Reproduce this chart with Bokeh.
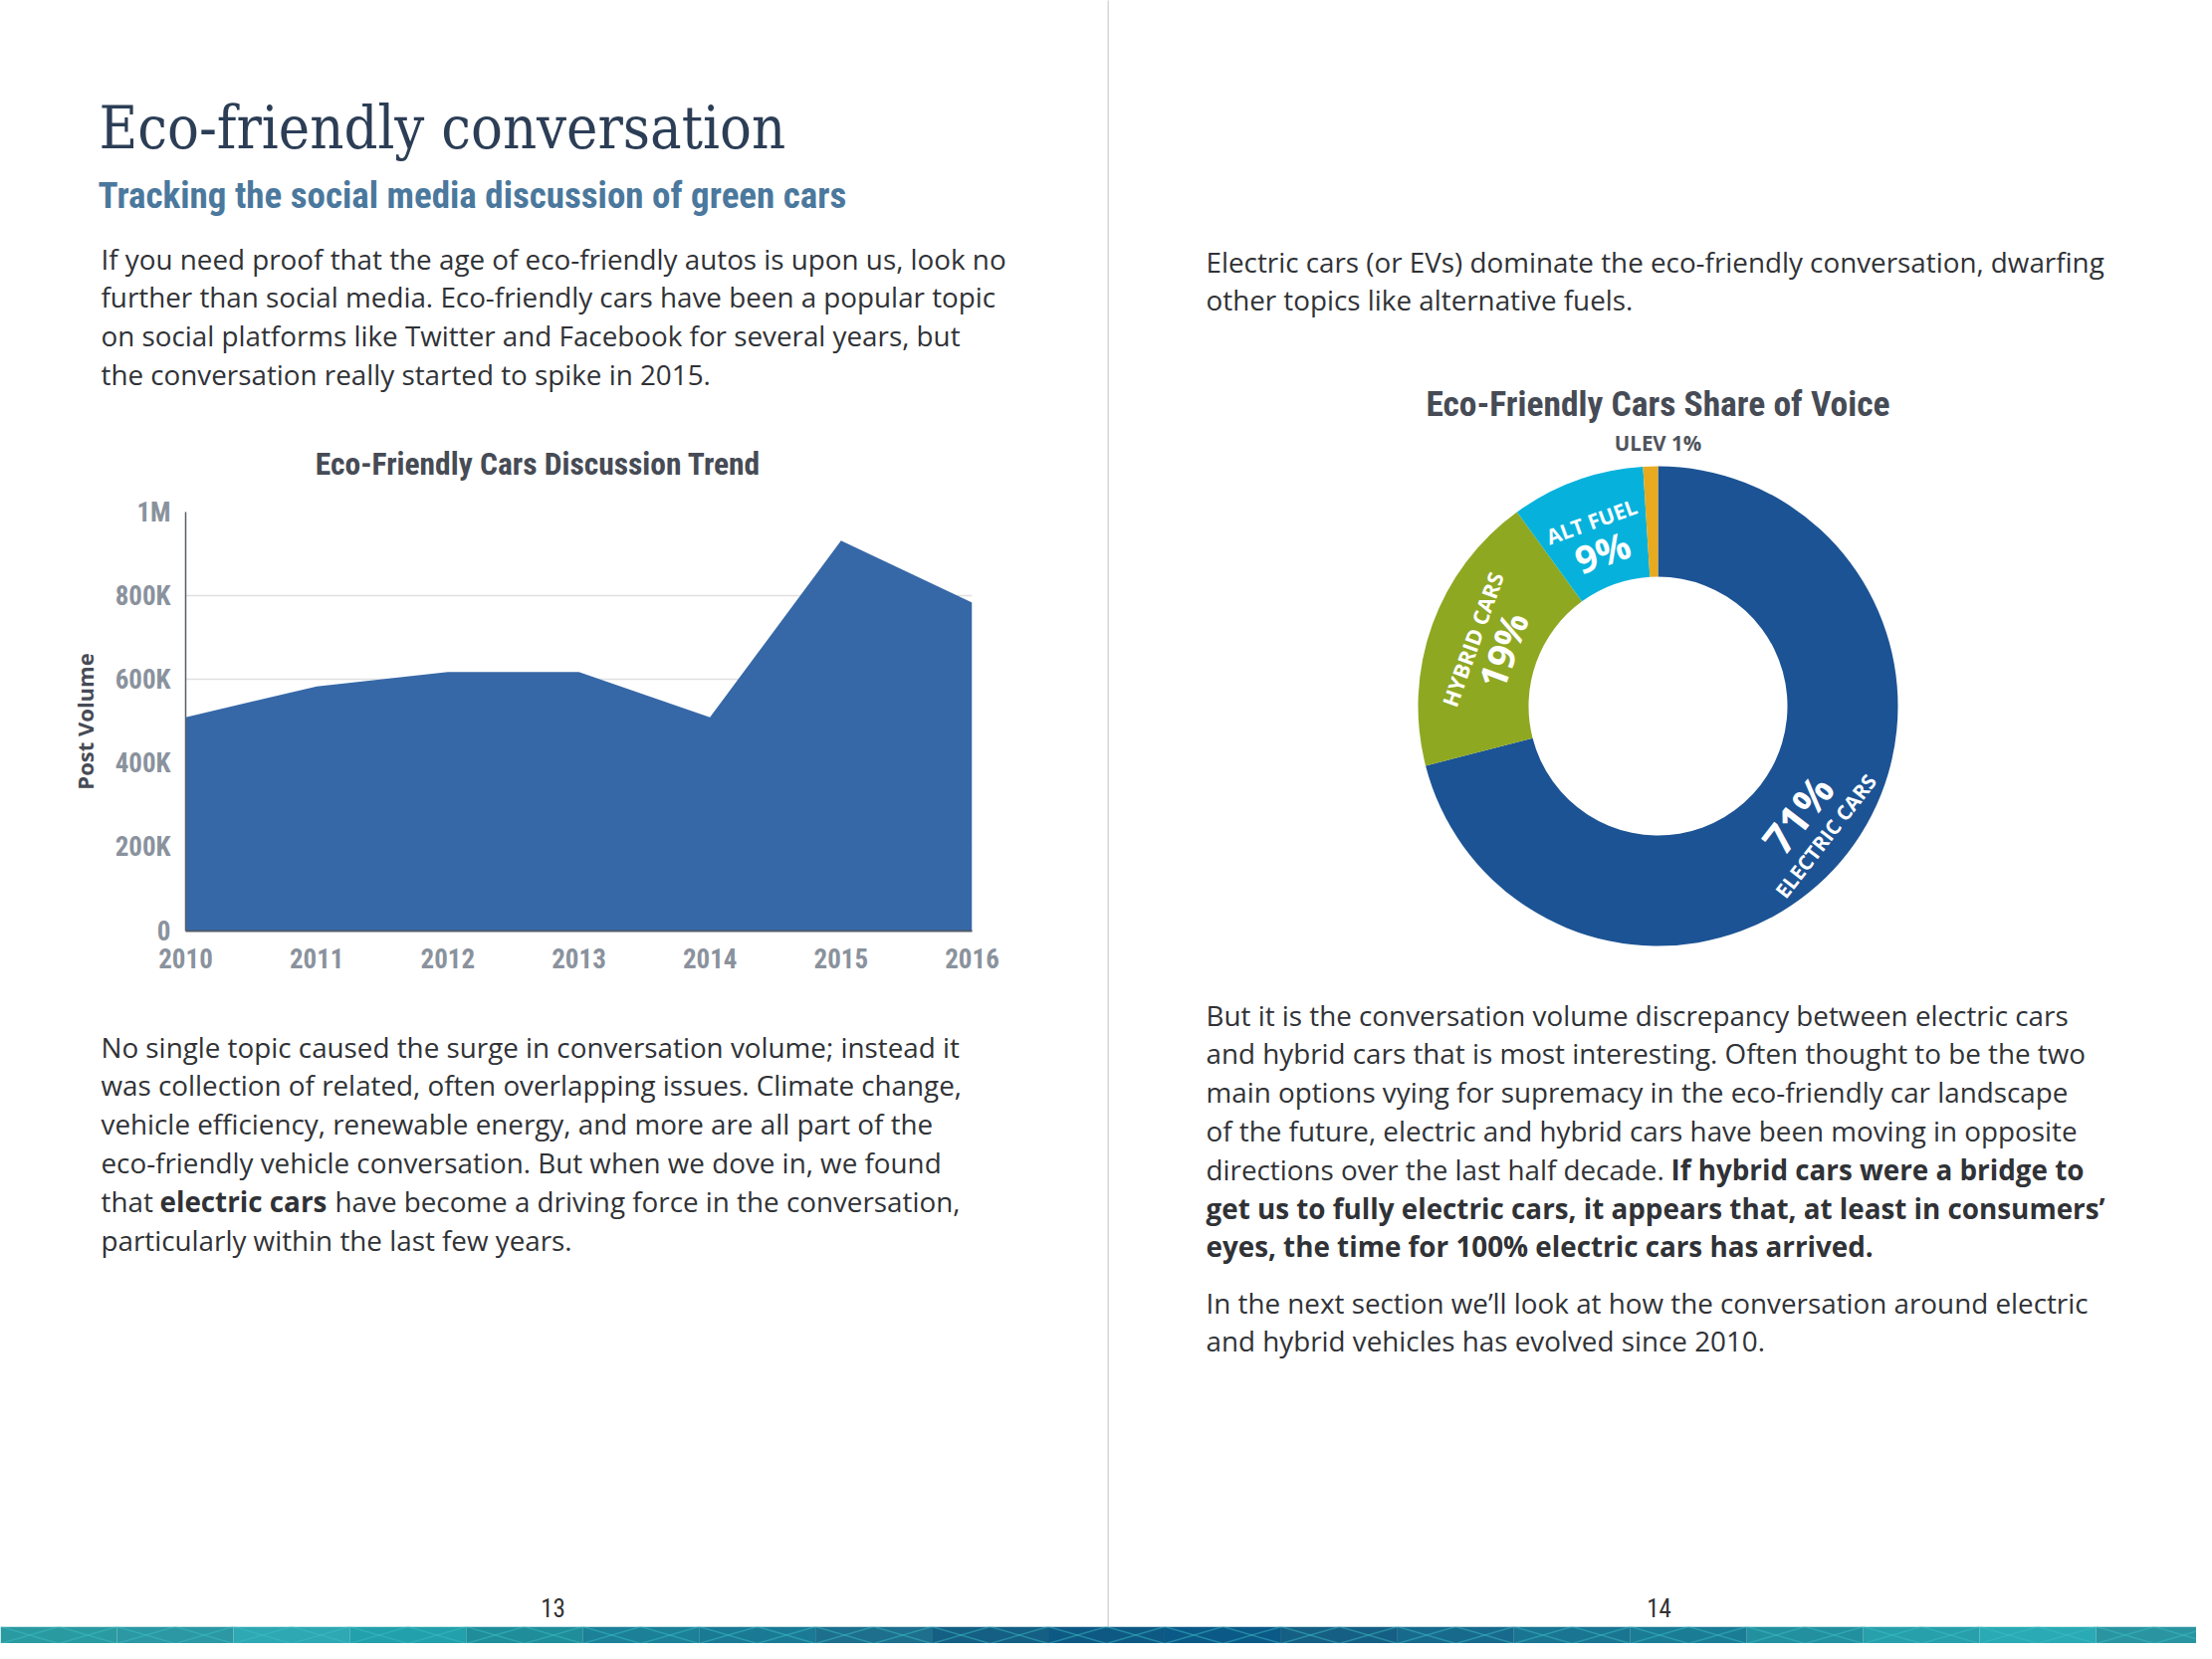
import math
from bokeh.plotting import figure
from bokeh.models import Range1d, FixedTicker
from bokeh.layouts import row, column
from bokeh.embed import file_html
from bokeh.resources import INLINE
from bokeh.core.properties import value

# ---------------- data ----------------
years = [2010, 2011, 2012, 2013, 2014, 2015, 2016]
post_volume = [510000, 584000, 618000, 618000, 510000, 932000, 784000]
y_ticks = [0, 200000, 400000, 600000, 800000, 1000000]
y_tick_labels = ["0", "200K", "400K", "600K", "800K", "1M"]

share_names = ["ELECTRIC CARS", "HYBRID CARS", "ALT FUEL", "ULEV"]
share_values = [71, 19, 9, 1]
share_colors = ["#1c5394", "#8ea822", "#06b2dc", "#e8aa1e"]

left_p1 = [
    "If you need proof that the age of eco-friendly autos is upon us, look no",
    "further than social media. Eco-friendly cars have been a popular topic",
    "on social platforms like Twitter and Facebook for several years, but",
    "the conversation really started to spike in 2015.",
]
left_p2 = [
    "No single topic caused the surge in conversation volume; instead it",
    "was collection of related, often overlapping issues. Climate change,",
    "vehicle efficiency, renewable energy, and more are all part of the",
    "eco-friendly vehicle conversation. But when we dove in, we found",
]
left_p2_mixed = ["that", "electric cars", "have become a driving force in the conversation,"]
left_p2_last = "particularly within the last few years."

right_p1 = [
    "Electric cars (or EVs) dominate the eco-friendly conversation, dwarfing",
    "other topics like alternative fuels.",
]
right_p2 = [
    "But it is the conversation volume discrepancy between electric cars",
    "and hybrid cars that is most interesting. Often thought to be the two",
    "main options vying for supremacy in the eco-friendly car landscape",
    "of the future, electric and hybrid cars have been moving in opposite",
]
right_p2_mixed = ["directions over the last half decade.", "If hybrid cars were a bridge to"]
right_p2_bold = [
    "get us to fully electric cars, it appears that, at least in consumers\u2019",
    "eyes, the time for 100% electric cars has arrived.",
]
right_p3 = [
    "In the next section we\u2019ll look at how the conversation around electric",
    "and hybrid vehicles has evolved since 2010.",
]

band_colors = ["#2a9aa1", "#2b98a4", "#2ea8b3", "#22a0ab", "#1f8d9a", "#1b8098",
               "#1a7a95", "#1d6f8d", "#145f83", "#0e5984", "#0b5987", "#165f84",
               "#186a8d", "#1a7593", "#1b7c96", "#23909f", "#27a0ab", "#2aaab4",
               "#2a95a1"]

# ---------------- styles ----------------
BODY = value("Open Sans")
NARROW_NAME = "Roboto Condensed, DejaVu Sans Condensed, Roboto, sans-serif"
NARROW = value(NARROW_NAME)
TXT = "#303236"
BODY_SIZE = "27.8px"
LINE = 38.8


def blank(x0, x1, y0, y1):
    p = figure(width=x1 - x0, height=y1 - y0,
               x_range=Range1d(x0, x1), y_range=Range1d(y1, y0),
               x_axis_type=None, y_axis_type=None,
               output_backend="svg", toolbar_location=None, min_border=0)
    p.grid.visible = False
    p.outline_line_color = None
    p.background_fill_color = "white"
    p.border_fill_color = "white"
    return p


def lines(p, x, y0, texts, bold=False, size=BODY_SIZE, font=BODY, color=TXT):
    p.text(x=[x] * len(texts), y=[y0 + LINE * i for i in range(len(texts))], text=texts,
           text_font=font, text_font_size=size, text_color=color,
           text_baseline="middle", text_align="left",
           text_font_style="bold" if bold else "normal")


# ---------------- left page, top text ----------------
lt = blank(0, 1112, 0, 490)
lt.text(x=[99], y=[128], text=["Eco-friendly conversation"],
        text_font=value("DejaVu Serif Condensed"), text_font_size="59px",
        text_color="#2c3e56", text_baseline="middle")
lt.text(x=[98], y=[196], text=["Tracking the social media discussion of green cars"],
        text_font=NARROW, text_font_size="37px", text_font_style="bold",
        text_color="#4b789d", text_baseline="middle")
lines(lt, 101, 259, left_p1)
lt.text(x=[540], y=[466], text=["Eco-Friendly Cars Discussion Trend"],
        text_font=NARROW, text_font_size="31.5px", text_font_style="bold",
        text_color="#464b55", text_baseline="middle", text_align="center")

# ---------------- area chart ----------------
ch = figure(width=1112, height=510, x_range=Range1d(years[0], years[-1]),
            y_range=Range1d(0, y_ticks[-1]), output_backend="svg", toolbar_location=None,
            min_border_left=186, min_border_right=136, min_border_top=24, min_border_bottom=65)
ch.varea(x=years, y1=0, y2=post_volume, fill_color="#3668a7")
ch.outline_line_color = None
ch.background_fill_color = "white"
ch.border_fill_color = "white"
ch.xgrid.visible = False
ch.ygrid.grid_line_color = "#e0e0e0"
ch.ygrid.grid_line_width = 1.5
ch.ygrid.ticker = FixedTicker(ticks=y_ticks)
ch.xaxis.ticker = FixedTicker(ticks=years)
ch.xaxis.major_label_overrides = {y: str(y) for y in years}
ch.yaxis.ticker = FixedTicker(ticks=y_ticks)
ch.yaxis.major_label_overrides = {t: l for t, l in zip(y_ticks, y_tick_labels)}
for ax in (ch.xaxis[0], ch.yaxis[0]):
    ax.major_tick_line_color = None
    ax.minor_tick_line_color = None
    ax.major_label_text_font = NARROW_NAME
    ax.major_label_text_font_style = "bold"
    ax.major_label_text_font_size = "27px"
    ax.major_label_text_color = "#8a929d"
ch.xaxis.axis_line_color = "#4f5a68"
ch.xaxis.axis_line_width = 2
ch.yaxis.axis_line_color = "#5a5f66"
ch.yaxis.axis_line_width = 1.5
ch.xaxis.major_label_standoff = 11
ch.yaxis.major_label_standoff = 9
ch.yaxis.axis_label = "Post Volume"
ch.yaxis.axis_label_text_font = "Open Sans"
ch.yaxis.axis_label_text_font_style = "bold"
ch.yaxis.axis_label_text_font_size = "22px"
ch.yaxis.axis_label_text_color = "#464b55"
ch.yaxis.axis_label_standoff = 13

# ---------------- left page, bottom text ----------------
lb = blank(0, 1112, 1000, 1634)
lines(lb, 101, 1051, left_p2)
ymix = 1051 + LINE * 4
lb.text(x=[101], y=[ymix], text=[left_p2_mixed[0]], text_font=BODY, text_font_size=BODY_SIZE,
        text_color=TXT, text_baseline="middle")
lb.text(x=[160], y=[ymix], text=[left_p2_mixed[1]], text_font=BODY, text_font_size=BODY_SIZE,
        text_color=TXT, text_baseline="middle", text_font_style="bold")
lb.text(x=[336], y=[ymix], text=[left_p2_mixed[2]], text_font=BODY, text_font_size=BODY_SIZE,
        text_color=TXT, text_baseline="middle")
lines(lb, 101, 1051 + LINE * 5, [left_p2_last])
lb.text(x=[555], y=[1615], text=["13"], text_font=NARROW, text_font_size="25px",
        text_color="#333333", text_baseline="middle", text_align="center")

# ---------------- separator ----------------
sep = blank(0, 2, 0, 1634)
sep.background_fill_color = "#d6d6d6"
sep.border_fill_color = "#d6d6d6"

# ---------------- right page, top text ----------------
rt = blank(1114, 2206, 0, 370)
lines(rt, 1211, 262, right_p1)

# ---------------- donut ----------------
CX, CY = 1665, 709
dn = figure(width=1092, height=620, x_range=Range1d(1114 - CX, 2206 - CX),
            y_range=Range1d(CY - 990, CY - 370), x_axis_type=None, y_axis_type=None,
            output_backend="svg", toolbar_location=None, min_border=0)
dn.grid.visible = False
dn.outline_line_color = None
dn.background_fill_color = "white"
dn.border_fill_color = "white"
R_IN, R_OUT = 130, 241
total = sum(share_values)
starts, ends, mids = [], [], []
cum = 0
for v in share_values:
    starts.append(math.pi / 2 - 2 * math.pi * cum / total)
    ends.append(math.pi / 2 - 2 * math.pi * (cum + v) / total)
    mids.append(math.pi / 2 - 2 * math.pi * (cum + v / 2) / total)
    cum += v
dn.annular_wedge(x=0, y=0, inner_radius=R_IN, outer_radius=R_OUT,
                 start_angle=starts, end_angle=ends, direction="clock",
                 fill_color=share_colors, line_color=None)

dn.text(x=[0], y=[CY - 405], text=["Eco-Friendly Cars Share of Voice"],
        text_font=NARROW, text_font_size="35.5px", text_font_style="bold",
        text_color="#464b55", text_baseline="middle", text_align="center")
dn.text(x=[0], y=[CY - 444], text=[f"{share_names[3]} {share_values[3]}%"],
        text_font=BODY, text_font_size="20.5px", text_font_style="bold",
        text_color="#4f545c", text_baseline="middle", text_align="center")

name_r = [213, 198, 197]
pct_r = [177, 166, 165]
pct_size = ["42px", "38px", "38px"]
name_size = ["20.5px", "21.5px", "21px"]
for i in range(3):
    th = mids[i]
    rot = th + math.pi / 2 if math.sin(th) < 0 else th - math.pi / 2
    dn.text(x=[name_r[i] * math.cos(th)], y=[name_r[i] * math.sin(th)], text=[share_names[i]],
            angle=rot, text_font=BODY, text_font_size=name_size[i], text_font_style="bold",
            text_color="white", text_baseline="middle", text_align="center")
    dn.text(x=[pct_r[i] * math.cos(th)], y=[pct_r[i] * math.sin(th)],
            text=[f"{share_values[i]}%"], angle=rot, text_font=BODY,
            text_font_size=pct_size[i], text_font_style="bold",
            text_color="white", text_baseline="middle", text_align="center")

# ---------------- right page, bottom text ----------------
rb = blank(1114, 2206, 990, 1634)
lines(rb, 1211, 1019, right_p2)
ymix = 1019 + LINE * 4
rb.text(x=[1211], y=[ymix], text=[right_p2_mixed[0]], text_font=BODY, text_font_size=BODY_SIZE,
        text_color=TXT, text_baseline="middle")
rb.text(x=[1678], y=[ymix], text=[right_p2_mixed[1]], text_font=BODY, text_font_size=BODY_SIZE,
        text_color=TXT, text_baseline="middle", text_font_style="bold")
lines(rb, 1211, 1019 + LINE * 5, right_p2_bold, bold=True)
lines(rb, 1211, 1308, right_p3)
rb.text(x=[1666], y=[1615], text=["14"], text_font=NARROW, text_font_size="25px",
        text_color="#333333", text_baseline="middle", text_align="center")

# ---------------- bottom band ----------------
BH = 17
bd = blank(0, 2206, 0, BH)
n = len(band_colors)
w = 2222 / n
lefts = [i * w for i in range(n)]
rights = [(i + 1) * w for i in range(n)]
mids_x = [l + w / 2 for l in lefts]
bd.quad(left=lefts, right=rights, top=0, bottom=BH, fill_color=band_colors, line_color=None)
for xa, xb in ((lefts, mids_x), (mids_x, lefts), (mids_x, rights), (rights, mids_x)):
    bd.segment(x0=xa, y0=[0] * n, x1=xb, y1=[BH] * n,
               line_color="#3fc0c8", line_alpha=0.45, line_width=1.5)

left_page = column(lt, row(ch), lb)
right_page = column(rt, dn, rb)
page = column(row(left_page, sep, right_page), bd)
open("out.html", "w").write(file_html(page, INLINE))
